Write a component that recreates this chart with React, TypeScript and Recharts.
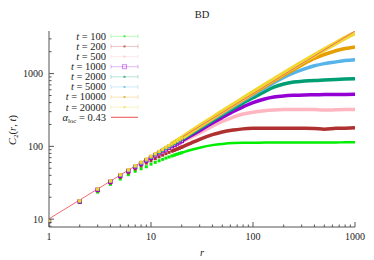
import React from 'react'
import { ComposedChart, Line, XAxis, YAxis } from 'recharts'

// separation r where single points are still visible
const rDots = [1, 2, 3, 4, 5, 6, 7, 8, 9, 10, 11, 12, 13, 14, 15, 16, 17, 18, 19, 20]
// denser part, drawn as a thick curve
const rCurve = [16, 20, 25, 30, 40, 50, 65, 80, 100, 130, 160, 200, 250, 320, 400, 500, 650, 800, 1000]

const dots100 = [9.2, 16.9, 23.5, 30.1, 35.6, 40.8, 45.5, 49.3, 52.5, 57.0, 60.3, 63.4, 66.3, 69.0, 71.5, 73.8, 76.0, 78.0, 80.0, 81.8]
const dots200 = [9.3, 17.2, 24.5, 31.3, 37.6, 43.4, 48.9, 54.0, 58.9, 63.5, 67.8, 71.8, 75.7, 79.3, 82.8, 86.0, 89.1, 92.0, 94.8, 97.4]
const dots500 = [9.4, 17.5, 25.2, 32.4, 39.2, 45.7, 51.9, 57.8, 63.5, 69.1, 74.4, 79.6, 84.6, 89.4, 94.1, 98.6, 103, 107.2, 111.2, 115]
const dots1000 = [9.4, 17.5, 25.3, 32.6, 39.4, 45.9, 52.1, 58.1, 64.0, 69.8, 75.3, 80.7, 86, 91, 96, 101, 105.5, 110, 114.5, 119]
const dots2000 = [9.5, 17.6, 25.5, 32.9, 39.9, 46.5, 52.9, 59.1, 65.2, 71.2, 77, 82.7, 88.3, 93.8, 99.2, 104.5, 109.5, 114.5, 119.5, 124.5]
const dots5000 = [9.5, 17.7, 25.7, 33.2, 40.3, 47.0, 53.5, 59.8, 66.0, 72.2, 78.2, 84.0, 89.8, 95.5, 101, 106.5, 112, 117, 122.5, 128]
const dots10000 = [9.6, 17.8, 25.9, 33.4, 40.6, 47.4, 54.0, 60.4, 66.7, 73.0, 79.0, 85.0, 91.0, 96.8, 102.5, 108, 113.5, 119, 124.5, 130]
const dots20000 = [9.6, 17.9, 26.0, 33.6, 40.8, 47.6, 54.2, 60.6, 67.0, 73.5, 79.5, 85.5, 91.5, 97.5, 103, 108.5, 114, 120, 125.5, 131]

const curve100 = [73.8, 81.8, 90, 96, 104, 108, 111, 112, 112, 113, 113, 113, 113, 113, 113, 113, 113, 114, 114]
const curve200 = [86, 97.4, 112, 125, 145, 158, 168, 174, 177, 178, 178, 178, 177, 177, 176, 172, 177, 178, 180]
const curve500 = [98.6, 115, 135, 153, 190, 220, 255, 278, 295, 308, 315, 320, 322, 322, 320, 315, 318, 320, 321]
const curve1000 = [101, 119, 142, 164, 210, 250, 305, 350, 400, 448, 476, 494, 504, 510, 512, 515, 517, 518, 520]
const curve2000 = [104.5, 124.5, 150, 176, 225, 272, 335, 395, 465, 565, 650, 720, 765, 790, 805, 815, 828, 840, 850]
const curve5000 = [106.5, 128, 156, 183, 235, 284, 355, 423, 510, 630, 750, 885, 1020, 1160, 1280, 1370, 1450, 1510, 1555]
const curve10000 = [108, 130, 158, 186, 240, 291, 366, 437, 530, 662, 790, 950, 1130, 1380, 1620, 1830, 2060, 2210, 2330]
const curve20000 = [108.5, 131, 162, 191, 247, 302, 380, 455, 555, 697, 833, 1008, 1215, 1495, 1790, 2140, 2620, 3080, 3600]

// power law fit, alpha_loc = 0.43
const fitR = [1, 1000]
const fitC = [10.1, 3840]

const tLabels = ['100', '200', '500', '1000', '2000', '5000', '10000', '20000']
const colors = ['#00ee00', '#b03030', '#ffb6c1', '#9400d3', '#009e73', '#56b4e9', '#e69f00', '#f0d830']
const fitColor = '#f26b6b'

const xTicks = [1, 2, 3, 4, 5, 6, 7, 8, 9, 10, 20, 30, 40, 50, 60, 70, 80, 90, 100, 200, 300, 400, 500, 600, 700, 800, 900, 1000]
const yTicks = [8, 9, 10, 20, 30, 40, 50, 60, 70, 80, 90, 100, 200, 300, 400, 500, 600, 700, 800, 900, 1000, 2000, 3000]
const majors = [1, 10, 100, 1000]

const font = '"Liberation Serif", "Times New Roman", serif'
const axisColor = '#555'

const allDots = [dots100, dots200, dots500, dots1000, dots2000, dots5000, dots10000, dots20000]
const allCurves = [curve100, curve200, curve500, curve1000, curve2000, curve5000, curve10000, curve20000]

const series = tLabels.map((t, i) => ({
  t,
  color: colors[i],
  dots: rDots.map((r, j) => ({ r, v: allDots[i][j] })),
  curve: rCurve.map((r, j) => ({ r, v: allCurves[i][j] })),
}))
const fitData = fitR.map((r, j) => ({ r, v: fitC[j] }))

const XTick = (props: any) => {
  const { x, y, payload, top } = props
  const major = majors.includes(payload.value)
  const len = major ? 5 : 2.5
  return (
    <g>
      <line x1={x} x2={x} y1={y} y2={top ? y + len : y - len} stroke={axisColor} strokeWidth={1} />
      {!top && major && (
        <text x={x} y={y + 13} textAnchor="middle" fontFamily={font} fontSize={10} fill="#222">
          {payload.value}
        </text>
      )}
    </g>
  )
}

const YTick = (props: any) => {
  const { x, y, payload, right } = props
  const major = majors.includes(payload.value)
  const len = major ? 5 : 2.5
  return (
    <g>
      <line x1={x} x2={right ? x - len : x + len} y1={y} y2={y} stroke={axisColor} strokeWidth={1} />
      {!right && major && (
        <text x={x - 6} y={y + 3.4} textAnchor="end" fontFamily={font} fontSize={10} fill="#222">
          {payload.value}
        </text>
      )}
    </g>
  )
}

const square = (color: string, size: number, open = false) => (p: any) => {
  if (p.cx == null || p.cy == null) return <g key={p.index} />
  return (
    <rect
      key={p.index}
      x={p.cx - size / 2}
      y={p.cy - size / 2}
      width={size}
      height={size}
      fill={open ? 'none' : color}
      stroke={open ? color : 'none'}
      strokeWidth={1}
    />
  )
}

function LegendBox() {
  const rowY = (i: number) => 36.3 + i * 10.13
  return (
    <svg width={374} height={260} style={{ position: 'absolute', left: 0, top: 0, pointerEvents: 'none' }}>
      {series.map((s, i) => (
        <g key={s.t}>
          <text x={106} y={rowY(i) + 3.4} textAnchor="end" fontFamily={font} fontSize={10.5} fill="#222">
            <tspan fontStyle="italic">t</tspan>
            {' = ' + s.t}
          </text>
          <g stroke={s.color} strokeOpacity={0.28} strokeWidth={1}>
            <line x1={111} x2={138} y1={rowY(i)} y2={rowY(i)} />
            <line x1={111} x2={111} y1={rowY(i) - 2} y2={rowY(i) + 2} />
            <line x1={138} x2={138} y1={rowY(i) - 2} y2={rowY(i) + 2} />
          </g>
          {i === 3 ? (
            <rect x={122.5} y={rowY(i) - 2} width={4} height={4} fill="none" stroke={s.color} strokeOpacity={0.45} />
          ) : (
            <rect x={123.5} y={rowY(i) - 1} width={2} height={2} fill={s.color} fillOpacity={0.7} />
          )}
        </g>
      ))}
      <text x={106} y={rowY(8) + 3.4} textAnchor="end" fontFamily={font} fontSize={10.5} fill="#222">
        <tspan fontStyle="italic">α</tspan>
        <tspan fontSize={7} dy={2}>loc</tspan>
        <tspan dy={-2}>{' = 0.43'}</tspan>
      </text>
      <line x1={111} x2={138} y1={rowY(8)} y2={rowY(8)} stroke={fitColor} strokeWidth={1.2} />
    </svg>
  )
}

export default function App() {
  return (
    <div style={{ position: 'absolute', left: 0, top: 0, width: 374, height: 260, background: '#fff' }}>
      <ComposedChart width={374} height={260} margin={{ top: 31, right: 19, bottom: 0, left: 0 }}>
        <XAxis
          xAxisId="b"
          dataKey="r"
          type="number"
          scale="log"
          domain={[1, 1000]}
          allowDataOverflow
          ticks={xTicks}
          interval={0}
          tickSize={0}
          tickMargin={0}
          height={33}
          stroke={axisColor}
          tick={<XTick />}
        />
        <XAxis
          xAxisId="t"
          orientation="top"
          dataKey="r"
          type="number"
          scale="log"
          domain={[1, 1000]}
          allowDataOverflow
          ticks={xTicks}
          interval={0}
          tickSize={0}
          tickMargin={0}
          height={0}
          stroke={axisColor}
          tick={<XTick top />}
        />
        <YAxis
          yAxisId="l"
          dataKey="v"
          type="number"
          scale="log"
          domain={[7.8, 3850]}
          allowDataOverflow
          ticks={yTicks}
          interval={0}
          tickSize={0}
          tickMargin={0}
          width={49}
          stroke={axisColor}
          tick={<YTick />}
        />
        <YAxis
          yAxisId="rt"
          orientation="right"
          dataKey="v"
          type="number"
          scale="log"
          domain={[7.8, 3850]}
          allowDataOverflow
          ticks={yTicks}
          interval={0}
          tickSize={0}
          tickMargin={0}
          width={0}
          stroke={axisColor}
          tick={<YTick right />}
        />
        {series.map((s, i) => (
          <Line
            key={'c' + s.t}
            xAxisId="b"
            yAxisId="l"
            data={s.curve}
            dataKey="v"
            type="monotone"
            stroke={s.color}
            strokeWidth={i === 0 ? 2.5 : i === 7 ? 4.5 : 3.5}
            strokeLinejoin="round"
            dot={false}
            activeDot={false}
            isAnimationActive={false}
          />
        ))}
        {series.map((s, i) => (
          <Line
            key={'d' + s.t}
            xAxisId="b"
            yAxisId="l"
            data={s.dots}
            dataKey="v"
            stroke="none"
            dot={square(s.color, i === 3 ? 3.5 : 3, i === 3)}
            activeDot={false}
            isAnimationActive={false}
          />
        ))}
        <Line
          xAxisId="b"
          yAxisId="l"
          data={fitData}
          dataKey="v"
          type="linear"
          stroke={fitColor}
          strokeWidth={1}
          dot={false}
          activeDot={false}
          isAnimationActive={false}
        />
      </ComposedChart>
      <LegendBox />
      <svg width={374} height={260} style={{ position: 'absolute', left: 0, top: 0, pointerEvents: 'none' }}>
        <text x={202} y={18.2} textAnchor="middle" fontFamily={font} fontSize={10.5} fill="#222">BD</text>
        <text x={202} y={256} textAnchor="middle" fontFamily={font} fontSize={10.5} fontStyle="italic" fill="#222">r</text>
        <text transform="translate(15.5,130) rotate(-90)" textAnchor="middle" fontFamily={font} fontSize={10.5} fill="#222">
          <tspan fontStyle="italic">C</tspan>
          <tspan fontSize={7} dy={2}>2</tspan>
          <tspan dy={-2}>(</tspan>
          <tspan fontStyle="italic">r</tspan>
          <tspan>, </tspan>
          <tspan fontStyle="italic">t</tspan>
          <tspan>)</tspan>
        </text>
      </svg>
    </div>
  )
}
